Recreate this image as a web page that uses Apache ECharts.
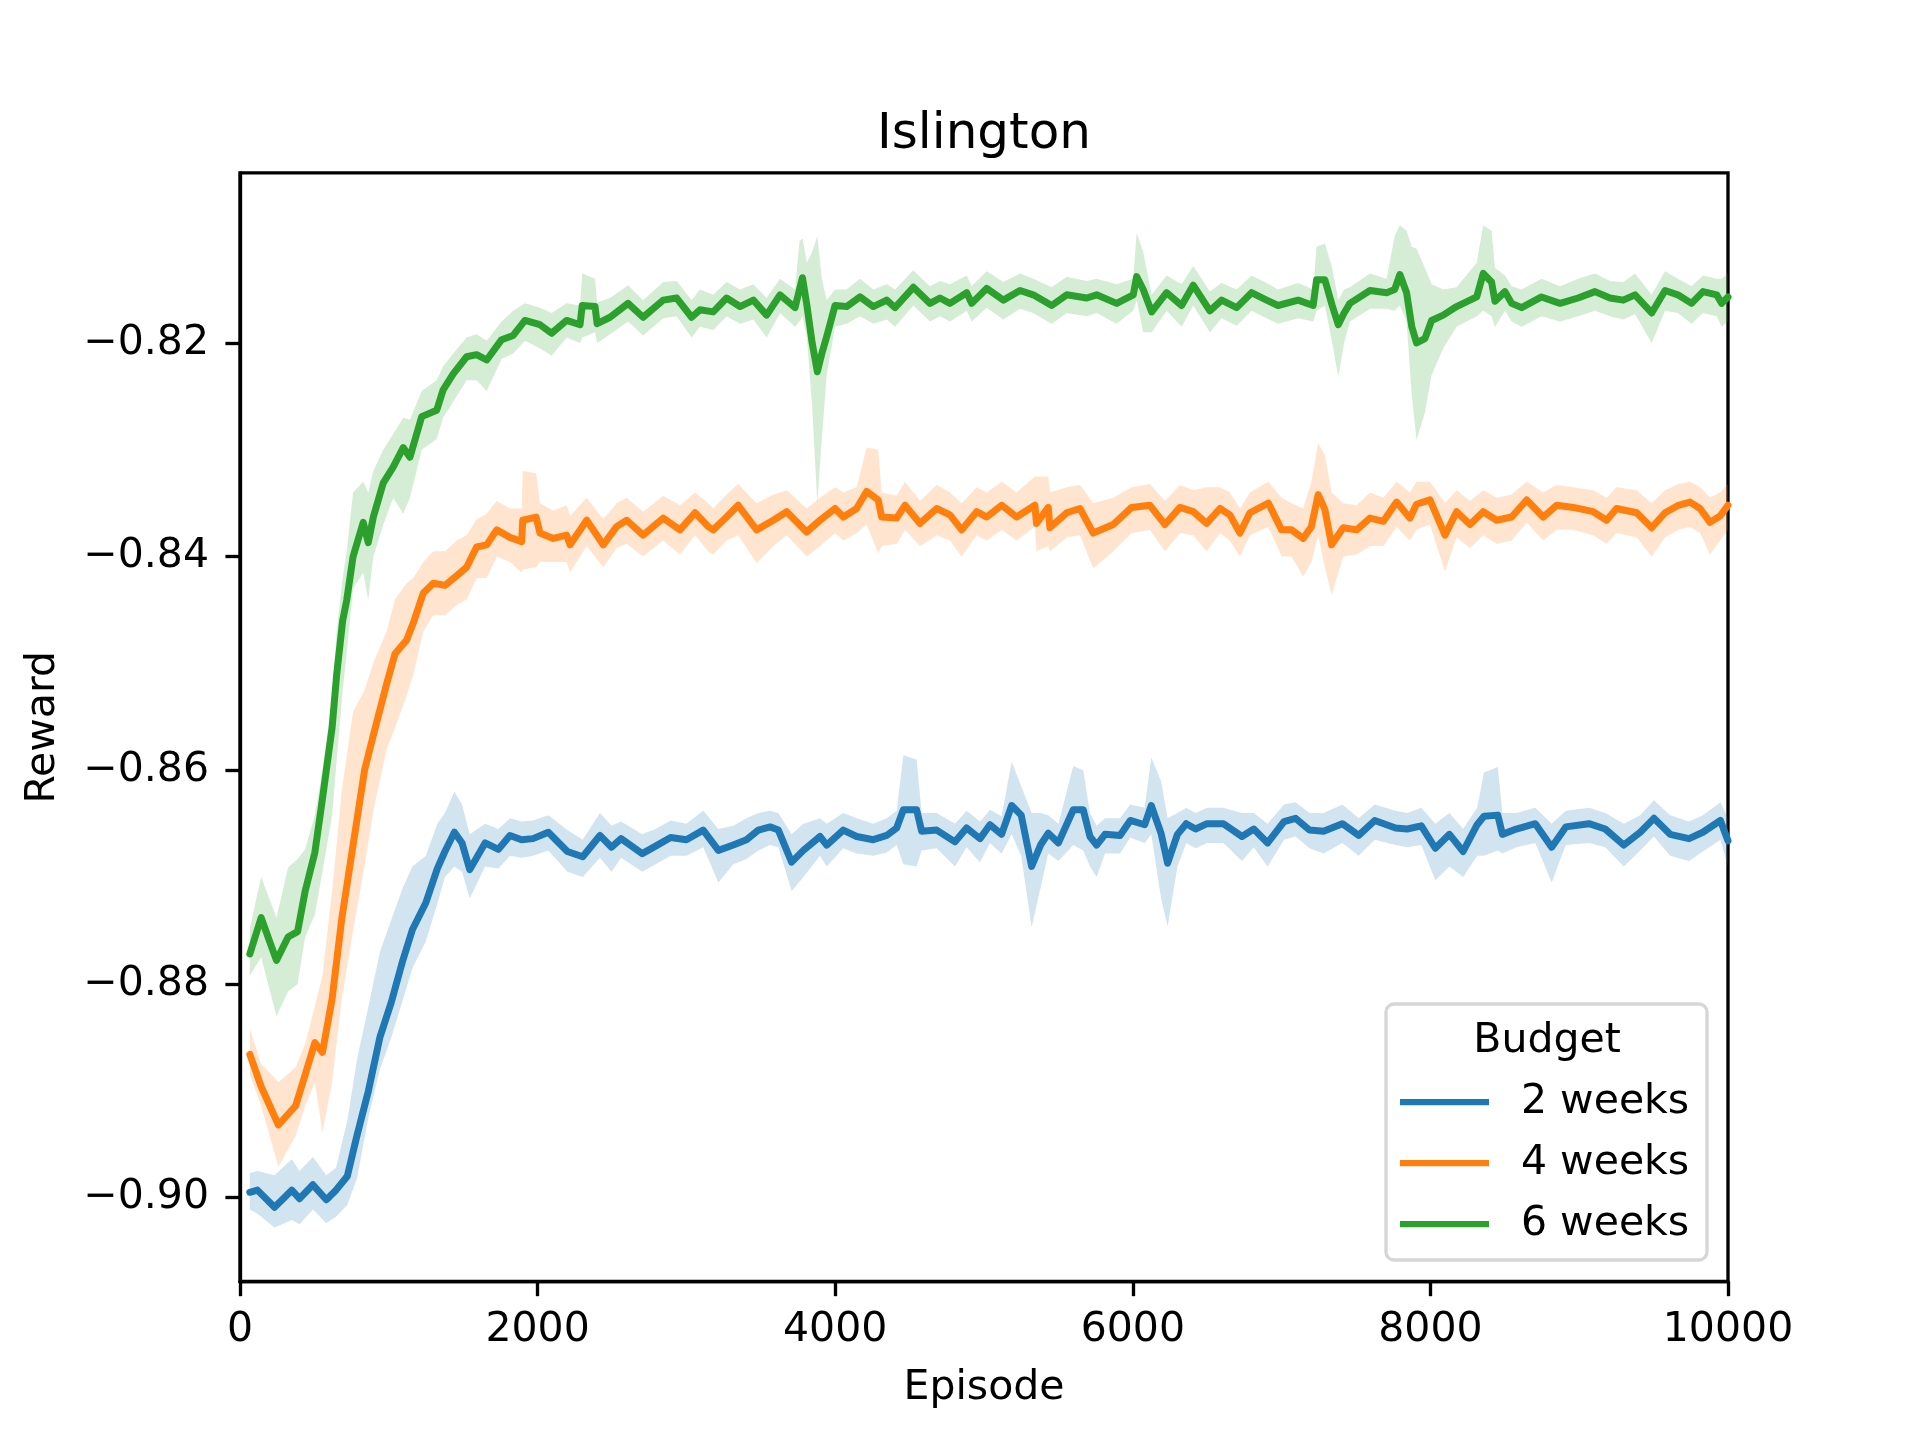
<!DOCTYPE html>
<html>
<head>
<meta charset="utf-8">
<script src="https://cdn.jsdelivr.net/npm/echarts@6/dist/echarts.min.js"></script>
<style>
html,body{margin:0;padding:0;background:#fff;}
#chart{width:1920px;height:1440px;}
</style>
</head>
<body>
<div id="chart"></div>
<script>
// ---------------- data ----------------
const chartTitle = 'Islington';
const xAxisName = 'Episode';
const yAxisName = 'Reward';
const legendTitle = 'Budget';
const categories = ['2 weeks', '4 weeks', '6 weeks'];
const xTicks = [0, 2000, 4000, 6000, 8000, 10000];
const yTicks = [-0.90, -0.88, -0.86, -0.84, -0.82];
const yRange = [-0.90786, -0.80408];

// rows: [episode, mean reward, lower band, upper band]
const weeks2 = [
[66,-0.8995,-0.9011,-0.8977],[117,-0.8993,-0.9015,-0.8975],[232,-0.9009,-0.9028,-0.8979],
[348,-0.8993,-0.9021,-0.8964],[400,-0.9001,-0.9025,-0.8975],[490,-0.8988,-0.9011,-0.8962],
[580,-0.9002,-0.9024,-0.8979],[645,-0.8993,-0.9018,-0.8972],[721,-0.8980,-0.9007,-0.8928],
[786,-0.8942,-0.8982,-0.8871],[863,-0.8900,-0.8925,-0.8821],[940,-0.8850,-0.8880,-0.8770],
[1017,-0.8817,-0.8850,-0.8740],[1094,-0.8778,-0.8815,-0.8710],[1159,-0.8749,-0.8785,-0.8690],
[1249,-0.8724,-0.8760,-0.8680],[1326,-0.8692,-0.8725,-0.8650],[1377,-0.8676,-0.8700,-0.8640],
[1441,-0.8658,-0.8690,-0.8620],[1492,-0.8668,-0.8695,-0.8632],[1544,-0.8693,-0.8720,-0.8660],
[1647,-0.8668,-0.8690,-0.8650],[1737,-0.8674,-0.8692,-0.8655],[1814,-0.8661,-0.8680,-0.8645],
[1892,-0.8665,-0.8682,-0.8648],[1969,-0.8664,-0.8680,-0.8647],[2072,-0.8658,-0.8675,-0.8642],
[2200,-0.8676,-0.8695,-0.8656],[2303,-0.8681,-0.8700,-0.8665],[2419,-0.8661,-0.8682,-0.8640],
[2497,-0.8672,-0.8695,-0.8652],[2561,-0.8664,-0.8682,-0.8648],[2703,-0.8678,-0.8695,-0.8660],
[2793,-0.8671,-0.8688,-0.8655],[2894,-0.8663,-0.8680,-0.8647],[3000,-0.8665,-0.8680,-0.8650],
[3113,-0.8656,-0.8672,-0.8638],[3215,-0.8675,-0.8705,-0.8655],[3315,-0.8670,-0.8688,-0.8652],
[3404,-0.8665,-0.8683,-0.8645],[3484,-0.8656,-0.8675,-0.8640],[3562,-0.8653,-0.8670,-0.8638],
[3618,-0.8656,-0.8672,-0.8640],[3707,-0.8686,-0.8713,-0.8660],[3786,-0.8675,-0.8700,-0.8650],
[3898,-0.8662,-0.8680,-0.8645],[3943,-0.8670,-0.8690,-0.8650],[4054,-0.8656,-0.8673,-0.8640],
[4144,-0.8662,-0.8678,-0.8645],[4256,-0.8665,-0.8680,-0.8650],[4346,-0.8661,-0.8677,-0.8645],
[4413,-0.8654,-0.8670,-0.8638],[4458,-0.8637,-0.8688,-0.8586],[4547,-0.8637,-0.8690,-0.8590],
[4581,-0.8657,-0.8675,-0.8640],[4682,-0.8656,-0.8673,-0.8640],[4805,-0.8667,-0.8690,-0.8650],
[4883,-0.8654,-0.8672,-0.8638],[4973,-0.8664,-0.8686,-0.8648],[5040,-0.8651,-0.8668,-0.8637],
[5118,-0.8660,-0.8678,-0.8643],[5186,-0.8633,-0.8660,-0.8592],[5250,-0.8642,-0.8680,-0.8615],
[5320,-0.8690,-0.8747,-0.8640],[5380,-0.8670,-0.8710,-0.8640],[5432,-0.8659,-0.8678,-0.8642],
[5500,-0.8668,-0.8685,-0.8650],[5600,-0.8637,-0.8670,-0.8596],[5667,-0.8637,-0.8675,-0.8600],
[5712,-0.8662,-0.8690,-0.8640],[5757,-0.8670,-0.8700,-0.8652],[5813,-0.8660,-0.8678,-0.8645],
[5914,-0.8661,-0.8678,-0.8645],[5983,-0.8647,-0.8663,-0.8632],[6080,-0.8651,-0.8668,-0.8635],
[6124,-0.8633,-0.8660,-0.8588],[6190,-0.8659,-0.8720,-0.8610],[6234,-0.8687,-0.8746,-0.8645],
[6300,-0.8660,-0.8690,-0.8640],[6359,-0.8650,-0.8668,-0.8635],[6422,-0.8655,-0.8673,-0.8640],
[6499,-0.8650,-0.8668,-0.8635],[6608,-0.8650,-0.8668,-0.8635],[6734,-0.8662,-0.8685,-0.8640],
[6813,-0.8655,-0.8672,-0.8640],[6906,-0.8668,-0.8690,-0.8650],[7016,-0.8648,-0.8665,-0.8632],
[7094,-0.8645,-0.8662,-0.8630],[7188,-0.8656,-0.8673,-0.8640],[7282,-0.8657,-0.8678,-0.8640],
[7408,-0.8650,-0.8668,-0.8632],[7518,-0.8661,-0.8680,-0.8645],[7626,-0.8647,-0.8665,-0.8632],
[7766,-0.8654,-0.8670,-0.8638],[7845,-0.8655,-0.8672,-0.8640],[7939,-0.8652,-0.8670,-0.8635],
[8033,-0.8673,-0.8703,-0.8650],[8128,-0.8660,-0.8690,-0.8640],[8220,-0.8676,-0.8700,-0.8655],
[8314,-0.8651,-0.8680,-0.8635],[8360,-0.8643,-0.8680,-0.8602],[8453,-0.8642,-0.8675,-0.8597],
[8484,-0.8660,-0.8678,-0.8640],[8577,-0.8655,-0.8672,-0.8640],[8705,-0.8650,-0.8668,-0.8635],
[8815,-0.8672,-0.8705,-0.8650],[8910,-0.8653,-0.8670,-0.8638],[9066,-0.8650,-0.8668,-0.8635],
[9175,-0.8655,-0.8672,-0.8640],[9300,-0.8670,-0.8690,-0.8650],[9410,-0.8658,-0.8675,-0.8642],
[9502,-0.8645,-0.8662,-0.8628],[9611,-0.8660,-0.8680,-0.8642],[9738,-0.8664,-0.8685,-0.8648],
[9831,-0.8658,-0.8676,-0.8642],[9949,-0.8647,-0.8665,-0.8630],[10000,-0.8666,-0.8690,-0.8645]
];

const weeks4 = [
[66,-0.8866,-0.8885,-0.8842],[142,-0.8896,-0.8914,-0.8875],[258,-0.8932,-0.8971,-0.8892],
[374,-0.8914,-0.8942,-0.8878],[438,-0.8885,-0.8914,-0.8856],[503,-0.8855,-0.8892,-0.8821],
[554,-0.8864,-0.8939,-0.8792],[619,-0.8814,-0.8892,-0.8713],[683,-0.8740,-0.8815,-0.8620],
[760,-0.8670,-0.8750,-0.8545],[837,-0.8600,-0.8690,-0.8525],[900,-0.8565,-0.8635,-0.8498],
[986,-0.8519,-0.8580,-0.8470],[1042,-0.8491,-0.8560,-0.8440],[1120,-0.8478,-0.8530,-0.8425],
[1165,-0.8462,-0.8510,-0.8420],[1232,-0.8434,-0.8470,-0.8405],[1299,-0.8425,-0.8455,-0.8395],
[1378,-0.8427,-0.8455,-0.8395],[1456,-0.8418,-0.8445,-0.8385],[1523,-0.8410,-0.8440,-0.8380],
[1590,-0.8391,-0.8420,-0.8365],[1658,-0.8389,-0.8420,-0.8360],[1725,-0.8375,-0.8400,-0.8348],
[1814,-0.8382,-0.8405,-0.8355],[1893,-0.8386,-0.8415,-0.8355],[1900,-0.8366,-0.8412,-0.8320],
[1990,-0.8363,-0.8410,-0.8322],[2016,-0.8378,-0.8405,-0.8350],[2105,-0.8383,-0.8405,-0.8357],
[2195,-0.8380,-0.8405,-0.8352],[2218,-0.8389,-0.8415,-0.8362],[2330,-0.8366,-0.8390,-0.8345],
[2441,-0.8389,-0.8410,-0.8365],[2531,-0.8372,-0.8392,-0.8350],[2599,-0.8366,-0.8388,-0.8345],
[2709,-0.8380,-0.8400,-0.8358],[2844,-0.8364,-0.8385,-0.8343],[2957,-0.8375,-0.8398,-0.8352],
[3058,-0.8359,-0.8380,-0.8340],[3147,-0.8372,-0.8395,-0.8350],[3180,-0.8375,-0.8398,-0.8355],
[3270,-0.8363,-0.8385,-0.8342],[3348,-0.8352,-0.8380,-0.8332],[3472,-0.8375,-0.8406,-0.8350],
[3584,-0.8366,-0.8390,-0.8342],[3674,-0.8358,-0.8380,-0.8338],[3808,-0.8377,-0.8400,-0.8355],
[3898,-0.8366,-0.8390,-0.8345],[3999,-0.8355,-0.8378,-0.8335],[4055,-0.8363,-0.8385,-0.8340],
[4144,-0.8355,-0.8378,-0.8335],[4211,-0.8339,-0.8370,-0.8298],[4289,-0.8347,-0.8397,-0.8300],
[4312,-0.8363,-0.8390,-0.8340],[4413,-0.8364,-0.8388,-0.8343],[4469,-0.8352,-0.8375,-0.8330],
[4570,-0.8369,-0.8390,-0.8348],[4682,-0.8355,-0.8380,-0.8333],[4771,-0.8361,-0.8385,-0.8340],
[4850,-0.8375,-0.8400,-0.8350],[4951,-0.8358,-0.8380,-0.8335],[5018,-0.8363,-0.8385,-0.8340],
[5119,-0.8352,-0.8375,-0.8330],[5219,-0.8363,-0.8385,-0.8340],[5342,-0.8352,-0.8372,-0.8325],
[5353,-0.8369,-0.8395,-0.8325],[5432,-0.8354,-0.8390,-0.8325],[5443,-0.8373,-0.8395,-0.8340],
[5556,-0.8359,-0.8382,-0.8335],[5645,-0.8355,-0.8380,-0.8333],[5734,-0.8378,-0.8411,-0.8350],
[5869,-0.8370,-0.8395,-0.8345],[5992,-0.8354,-0.8378,-0.8335],[6115,-0.8352,-0.8375,-0.8332],
[6216,-0.8370,-0.8395,-0.8348],[6317,-0.8354,-0.8378,-0.8333],[6406,-0.8358,-0.8380,-0.8338],
[6496,-0.8369,-0.8395,-0.8335],[6586,-0.8355,-0.8378,-0.8335],[6652,-0.8361,-0.8385,-0.8340],
[6720,-0.8378,-0.8400,-0.8355],[6787,-0.8359,-0.8380,-0.8340],[6911,-0.8350,-0.8372,-0.8330],
[7000,-0.8375,-0.8400,-0.8345],[7067,-0.8375,-0.8400,-0.8350],[7145,-0.8383,-0.8419,-0.8355],
[7200,-0.8372,-0.8405,-0.8330],[7246,-0.8342,-0.8380,-0.8294],[7291,-0.8356,-0.8410,-0.8305],
[7336,-0.8389,-0.8436,-0.8340],[7414,-0.8373,-0.8400,-0.8350],[7504,-0.8375,-0.8398,-0.8352],
[7594,-0.8364,-0.8390,-0.8340],[7684,-0.8367,-0.8390,-0.8345],[7773,-0.8349,-0.8372,-0.8330],
[7862,-0.8364,-0.8385,-0.8340],[7907,-0.8351,-0.8375,-0.8330],[7997,-0.8347,-0.8370,-0.8330],
[8098,-0.8380,-0.8414,-0.8350],[8176,-0.8358,-0.8382,-0.8338],[8266,-0.8370,-0.8392,-0.8348],
[8355,-0.8358,-0.8380,-0.8338],[8445,-0.8366,-0.8388,-0.8345],[8546,-0.8363,-0.8385,-0.8342],
[8647,-0.8347,-0.8368,-0.8330],[8758,-0.8363,-0.8385,-0.8340],[8848,-0.8352,-0.8375,-0.8333],
[8960,-0.8354,-0.8375,-0.8335],[9094,-0.8358,-0.8380,-0.8338],[9184,-0.8366,-0.8388,-0.8345],
[9251,-0.8355,-0.8378,-0.8335],[9386,-0.8359,-0.8382,-0.8338],[9487,-0.8373,-0.8400,-0.8350],
[9577,-0.8359,-0.8382,-0.8338],[9667,-0.8352,-0.8375,-0.8332],[9744,-0.8349,-0.8372,-0.8330],
[9812,-0.8355,-0.8378,-0.8335],[9879,-0.8368,-0.8398,-0.8345],[9947,-0.8362,-0.8385,-0.8340],
[10000,-0.8352,-0.8375,-0.8332]
];

const weeks6 = [
[66,-0.8772,-0.8792,-0.8748],[142,-0.8738,-0.8775,-0.8700],[245,-0.8778,-0.8830,-0.8738],
[323,-0.8756,-0.8807,-0.8691],[387,-0.8751,-0.8800,-0.8683],[438,-0.8713,-0.8756,-0.8674],
[503,-0.8677,-0.8735,-0.8642],[554,-0.8627,-0.8695,-0.8600],[619,-0.8560,-0.8642,-0.8535],
[650,-0.8510,-0.8590,-0.8470],[690,-0.8460,-0.8525,-0.8420],[717,-0.8441,-0.8490,-0.8395],
[760,-0.8400,-0.8430,-0.8340],[828,-0.8368,-0.8415,-0.8330],[862,-0.8387,-0.8440,-0.8340],
[896,-0.8363,-0.8400,-0.8320],[963,-0.8331,-0.8370,-0.8300],[1030,-0.8316,-0.8345,-0.8285],
[1097,-0.8298,-0.8360,-0.8270],[1142,-0.8307,-0.8345,-0.8272],[1221,-0.8269,-0.8300,-0.8245],
[1322,-0.8263,-0.8290,-0.8235],[1365,-0.8244,-0.8270,-0.8222],[1433,-0.8229,-0.8255,-0.8210],
[1523,-0.8213,-0.8235,-0.8195],[1590,-0.8211,-0.8235,-0.8192],[1658,-0.8216,-0.8245,-0.8198],
[1758,-0.8197,-0.8215,-0.8180],[1836,-0.8193,-0.8210,-0.8170],[1915,-0.8179,-0.8198,-0.8163],
[2016,-0.8183,-0.8205,-0.8167],[2094,-0.8191,-0.8212,-0.8172],[2195,-0.8179,-0.8195,-0.8163],
[2285,-0.8183,-0.8200,-0.8165],[2300,-0.8165,-0.8195,-0.8135],[2386,-0.8166,-0.8190,-0.8140],
[2400,-0.8182,-0.8200,-0.8162],[2487,-0.8176,-0.8192,-0.8158],[2608,-0.8163,-0.8180,-0.8146],
[2709,-0.8176,-0.8193,-0.8160],[2844,-0.8160,-0.8177,-0.8143],[2935,-0.8158,-0.8175,-0.8142],
[3035,-0.8176,-0.8195,-0.8160],[3091,-0.8169,-0.8185,-0.8150],[3180,-0.8171,-0.8188,-0.8155],
[3270,-0.8158,-0.8175,-0.8143],[3360,-0.8166,-0.8182,-0.8150],[3450,-0.8160,-0.8178,-0.8145],
[3539,-0.8174,-0.8195,-0.8158],[3629,-0.8155,-0.8172,-0.8140],[3730,-0.8167,-0.8185,-0.8150],
[3760,-0.8150,-0.8180,-0.8105],[3780,-0.8139,-0.8175,-0.8102],[3810,-0.8165,-0.8195,-0.8125],
[3845,-0.8200,-0.8260,-0.8115],[3880,-0.8227,-0.8350,-0.8100],[3910,-0.8210,-0.8290,-0.8140],
[3943,-0.8194,-0.8230,-0.8160],[3999,-0.8165,-0.8185,-0.8150],[4077,-0.8166,-0.8182,-0.8150],
[4167,-0.8157,-0.8175,-0.8140],[4256,-0.8166,-0.8182,-0.8150],[4346,-0.8160,-0.8178,-0.8145],
[4402,-0.8167,-0.8185,-0.8150],[4525,-0.8148,-0.8165,-0.8132],[4637,-0.8163,-0.8180,-0.8147],
[4704,-0.8158,-0.8175,-0.8142],[4771,-0.8163,-0.8180,-0.8145],[4884,-0.8153,-0.8170,-0.8137],
[4917,-0.8163,-0.8180,-0.8147],[5018,-0.8149,-0.8167,-0.8133],[5130,-0.8160,-0.8178,-0.8143],
[5242,-0.8151,-0.8168,-0.8135],[5331,-0.8155,-0.8172,-0.8140],[5455,-0.8165,-0.8182,-0.8148],
[5556,-0.8155,-0.8172,-0.8138],[5690,-0.8158,-0.8175,-0.8142],[5757,-0.8155,-0.8172,-0.8140],
[5891,-0.8163,-0.8182,-0.8145],[6003,-0.8155,-0.8170,-0.8140],[6026,-0.8138,-0.8160,-0.8097],
[6070,-0.8150,-0.8190,-0.8115],[6127,-0.8171,-0.8190,-0.8155],[6227,-0.8153,-0.8170,-0.8137],
[6328,-0.8165,-0.8185,-0.8145],[6406,-0.8146,-0.8165,-0.8128],[6518,-0.8170,-0.8190,-0.8152],
[6597,-0.8160,-0.8177,-0.8144],[6698,-0.8167,-0.8184,-0.8150],[6798,-0.8153,-0.8170,-0.8137],
[6899,-0.8160,-0.8177,-0.8144],[6976,-0.8165,-0.8182,-0.8150],[7111,-0.8160,-0.8177,-0.8144],
[7212,-0.8165,-0.8180,-0.8150],[7235,-0.8141,-0.8170,-0.8110],[7291,-0.8141,-0.8165,-0.8107],
[7340,-0.8165,-0.8200,-0.8130],[7381,-0.8183,-0.8232,-0.8160],[7420,-0.8172,-0.8200,-0.8150],
[7459,-0.8163,-0.8180,-0.8148],[7594,-0.8151,-0.8168,-0.8135],[7706,-0.8153,-0.8168,-0.8140],
[7760,-0.8150,-0.8170,-0.8100],[7795,-0.8136,-0.8165,-0.8090],[7840,-0.8153,-0.8180,-0.8095],
[7875,-0.8185,-0.8250,-0.8110],[7907,-0.8200,-0.8291,-0.8112],[7963,-0.8196,-0.8265,-0.8130],
[8008,-0.8179,-0.8230,-0.8145],[8086,-0.8174,-0.8205,-0.8150],[8176,-0.8166,-0.8185,-0.8148],
[8311,-0.8157,-0.8175,-0.8125],[8355,-0.8135,-0.8170,-0.8090],[8411,-0.8143,-0.8175,-0.8095],
[8434,-0.8161,-0.8185,-0.8130],[8501,-0.8152,-0.8170,-0.8137],[8546,-0.8163,-0.8180,-0.8147],
[8613,-0.8167,-0.8185,-0.8150],[8747,-0.8157,-0.8175,-0.8140],[8871,-0.8163,-0.8180,-0.8147],
[8992,-0.8158,-0.8175,-0.8140],[9106,-0.8152,-0.8170,-0.8135],[9207,-0.8158,-0.8175,-0.8142],
[9296,-0.8160,-0.8178,-0.8143],[9375,-0.8155,-0.8173,-0.8135],[9487,-0.8172,-0.8200,-0.8155],
[9577,-0.8151,-0.8170,-0.8133],[9663,-0.8155,-0.8172,-0.8140],[9755,-0.8163,-0.8182,-0.8147],
[9832,-0.8152,-0.8172,-0.8137],[9924,-0.8155,-0.8175,-0.8140],[9957,-0.8163,-0.8185,-0.8140],
[10000,-0.8157,-0.8180,-0.8135]
];

// ---------------- styling ----------------
const FONT = 'DejaVu Sans';
const PT = 300 / 72;
const colors = ['#1f77b4', '#ff7f0e', '#2ca02c'];
const bandColors = ['rgba(31,119,180,0.2)', 'rgba(255,127,14,0.2)', 'rgba(44,160,44,0.2)'];
const seriesRows = [weeks2, weeks4, weeks6];

const GRID = {left: 240, top: 172.8, width: 1488, height: 1108.8};

function bandSeries(rows, color) {
  return {
    type: 'custom',
    silent: true,
    animation: false,
    data: rows.map(r => [r[0], r[2], r[3]]),
    encode: {x: 0, y: [1, 2]},
    renderItem: function (params, api) {
      if (params.dataIndex !== 0) return null;
      const pts = [];
      for (let i = 0; i < rows.length; i++) pts.push(api.coord([rows[i][0], rows[i][3]]));
      for (let i = rows.length - 1; i >= 0; i--) pts.push(api.coord([rows[i][0], rows[i][2]]));
      return {type: 'polygon', shape: {points: pts}, style: {fill: color, stroke: null}};
    }
  };
}

function lineSeries(name, rows, color) {
  return {
    type: 'line',
    name: name,
    data: rows.map(r => [r[0], r[1]]),
    symbol: 'none',
    showSymbol: false,
    animation: false,
    lineStyle: {color: color, width: 7, cap: 'round', join: 'round'},
    itemStyle: {color: color}
  };
}

const series = [];
for (let k = 0; k < 3; k++) {
  series.push(bandSeries(seriesRows[k], bandColors[k]));
  series.push(lineSeries(categories[k], seriesRows[k], colors[k]));
}

const fmtY = v => (v < 0 ? '\u2212' : '') + Math.abs(v).toFixed(2);
const fmtX = v => String(Math.round(v));

const option = {
  backgroundColor: '#ffffff',
  animation: false,
  grid: {left: GRID.left, top: GRID.top, width: GRID.width, height: GRID.height,
         show: true, borderColor: '#000', borderWidth: 0.8 * PT, backgroundColor: 'transparent'},
  xAxis: {
    type: 'value', min: xTicks[0], max: xTicks[xTicks.length - 1], interval: 2000,
    axisLine: {show: true, onZero: false, lineStyle: {color: '#000', width: 0.8 * PT}},
    axisTick: {show: true, length: 3.5 * PT, customValues: xTicks, lineStyle: {color: '#000', width: 0.8 * PT}},
    axisLabel: {show: true, customValues: xTicks, formatter: fmtX, color: '#000', fontFamily: FONT, fontSize: 41, margin: 28},
    splitLine: {show: false}
  },
  yAxis: {
    type: 'value', min: yRange[0], max: yRange[1],
    axisLine: {show: true, onZero: false, lineStyle: {color: '#000', width: 0.8 * PT}},
    axisTick: {show: true, length: 3.5 * PT, customValues: yTicks, lineStyle: {color: '#000', width: 0.8 * PT}},
    axisLabel: {show: true, customValues: yTicks, formatter: fmtY, color: '#000', fontFamily: FONT, fontSize: 41, margin: 31},
    splitLine: {show: false}
  },
  legend: {
    data: categories,
    orient: 'vertical',
    left: 1400, top: 1077,
    icon: 'rect',
    itemWidth: 89, itemHeight: 1.5 * PT,
    itemGap: 11,
    padding: 0,
    selectedMode: false,
    z: 10,
    textStyle: {fontFamily: FONT, fontSize: 41, color: '#000', lineHeight: 50, padding: [0, 0, 0, 27]}
  },
  graphic: [
    {type: 'rect', z: 5, shape: {x: 1386, y: 1004, width: 321, height: 256, r: 8},
     style: {fill: 'rgba(255,255,255,0.8)', stroke: '#d6d6d6', lineWidth: 0.8 * PT}},
    {type: 'text', z: 10, x: 1547, y: 1041,
     style: {text: legendTitle, fontFamily: FONT, fontSize: 41, fill: '#000', align: 'center', verticalAlign: 'middle'}},
    {type: 'text', z: 10, x: GRID.left + GRID.width / 2, y: 135,
     style: {text: chartTitle, fontFamily: FONT, fontSize: 50, fill: '#000', align: 'center', verticalAlign: 'middle'}},
    {type: 'text', z: 10, x: GRID.left + GRID.width / 2, y: 1388,
     style: {text: xAxisName, fontFamily: FONT, fontSize: 41, fill: '#000', align: 'center', verticalAlign: 'middle'}},
    {type: 'text', z: 10, x: 43, y: GRID.top + GRID.height / 2, rotation: Math.PI / 2,
     style: {text: yAxisName, fontFamily: FONT, fontSize: 41, fill: '#000', align: 'center', verticalAlign: 'middle'}}
  ],
  series: series
};

const chart = echarts.init(document.getElementById('chart'), null, {renderer: 'canvas', width: 1920, height: 1440});
chart.setOption(option);
</script>
</body>
</html>
